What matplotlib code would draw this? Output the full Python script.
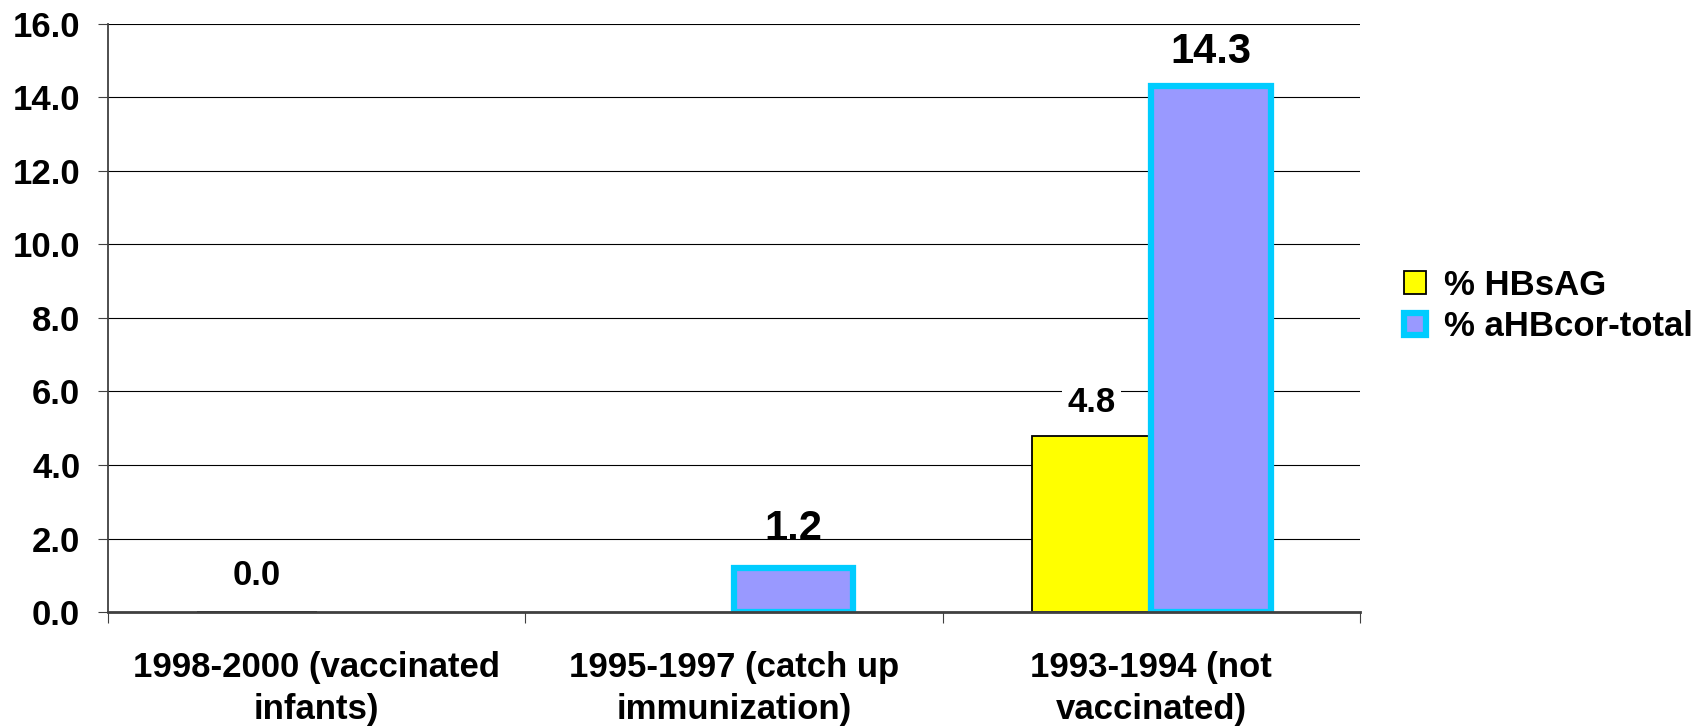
import numpy as np
import matplotlib
matplotlib.use('Agg')
import matplotlib.pyplot as plt

plt.rcParams['font.family'] = ['Liberation Sans', 'DejaVu Sans']
plt.rcParams['font.weight'] = 'bold'

groups = ['1998-2000 (vaccinated\ninfants)', '1995-1997 (catch up\nimmunization)', '1993-1994 (not\nvaccinated)']
hbsag = [0.0, np.nan, 4.8]
ahbcor = [np.nan, 1.2, 14.3]
series_names = ['% HBsAG', '% aHBcor-total']
y_ticks = [0, 2, 4, 6, 8, 10, 12, 14, 16]

fig = plt.figure(figsize=(16.92, 7.27), dpi=100)
ax = fig.add_axes([108/1692, 1-612/727, 1252/1692, 588/727])

x = np.arange(len(groups))
w = 1/3.5  # gap width 150%

# grid first so bars sit on top
ax.set_axisbelow(True)
ax.yaxis.grid(True, color='black', linewidth=0.8)

b1 = ax.bar(x - w/2, hbsag, w, color='#FFFF00', edgecolor='black', linewidth=1.3, label=series_names[0])
b2 = ax.bar(x + w/2, ahbcor, w, color='#9999FF', edgecolor='#00CCFF', linewidth=4.5, label=series_names[1])

ax.set_xlim(-0.5, 2.5)
ax.set_ylim(0, 16)
ax.set_yticks(y_ticks)
ax.set_yticklabels([f'{v:.1f}' for v in y_ticks], fontsize=25, fontweight='bold')
ax.tick_params(axis='y', length=7, width=0.8, pad=13, color='#404040')

ax.set_xticks(x)
ax.set_xticklabels(groups, fontsize=25, fontweight='bold', linespacing=1.36)
ax.tick_params(axis='x', which='major', length=0, pad=28)
ax.set_xticks([-0.5, 0.5, 1.5, 2.5], minor=True)
ax.tick_params(axis='x', which='minor', length=8, width=0.8, color='#404040')

for s in ['top', 'right']:
    ax.spines[s].set_visible(False)
ax.spines['left'].set_color('#404040')
ax.spines['left'].set_linewidth(1.3)
ax.spines['bottom'].set_color('#404040')
ax.spines['bottom'].set_linewidth(2)

# value labels (HBsAG smaller, aHBcor larger)
offsets = {(0, 0): 26.5, (0, 2): 24, (1, 1): 28, (1, 2): 25}
for si, (vals, xs) in enumerate([(hbsag, x - w/2), (ahbcor, x + w/2)]):
    for i, v in enumerate(vals):
        if np.isnan(v):
            continue
        fs = 30 if si == 1 else 25
        bbox = dict(facecolor='white', edgecolor='none', pad=4) if (si, i) == (0, 2) else None
        ax.annotate(f'{v:.1f}', (xs[i], v), xytext=(0, offsets[(si, i)]), textcoords='offset points',
                    ha='center', va='center', fontsize=fs, fontweight='bold', bbox=bbox)

ax.legend(loc='center left', bbox_to_anchor=(1387/1692, 1-306/727), bbox_transform=fig.transFigure,
          frameon=False, borderpad=0, handlelength=0.63, handleheight=0.63, handletextpad=0.5,
          labelspacing=0.25, prop={'weight': 'bold', 'size': 25})

fig.savefig('out.png', dpi=100)
